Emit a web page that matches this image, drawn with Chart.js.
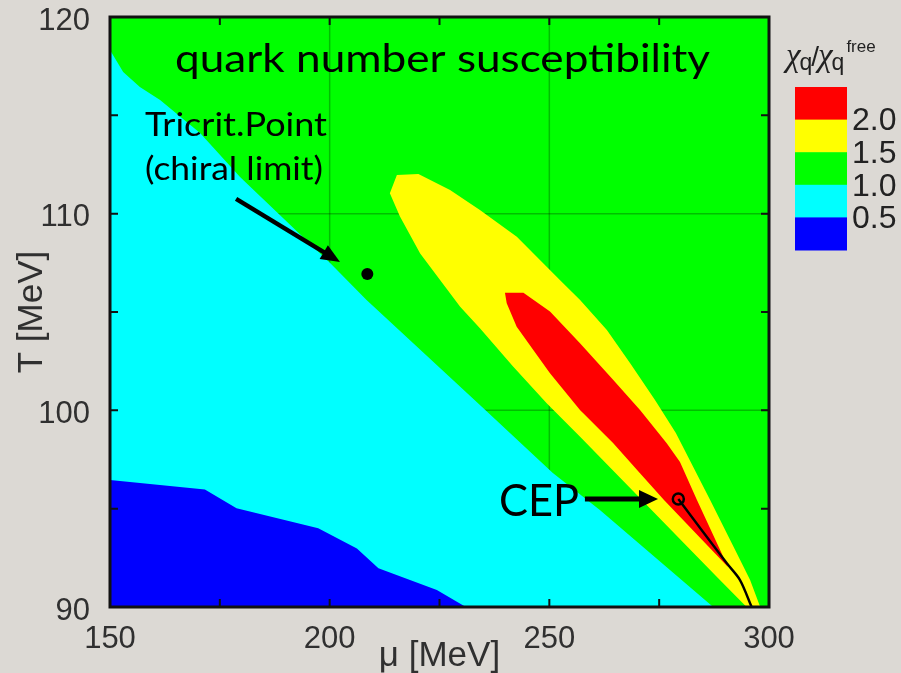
<!DOCTYPE html>
<html><head><meta charset="utf-8">
<script src="https://cdn.jsdelivr.net/npm/chart.js@4.4.1/dist/chart.umd.min.js"></script>
<style>html,body{margin:0;padding:0;background:#dcd9d4;overflow:hidden}canvas{display:block}</style>
</head><body>
<canvas id="c" width="901" height="673"></canvas>
<script>
// ---- axes ----
const muRange = [150, 300];
const tRange = [90, 120];
const muTickStep = 25;
const tTickStep = 5;
const muLabelTicks = [150, 200, 250, 300];
const tLabelTicks = [90, 100, 110, 120];
const muGrid = [200, 250];
const tGrid = [100, 110];

// ---- contour regions (chi_q / chi_q^free levels) ----
// region below the 0.5 contour (blue)
const blueMu = [150, 150, 171.6, 178.8, 197.4, 206.2, 211.1, 224.4, 231.0];
const blueT  = [90, 96.46, 95.98, 95.02, 94.0, 92.98, 91.97, 90.87, 90.0];
// region below the 1.0 contour (cyan)
const cyanMu = [150, 150, 153.0, 156.8, 161.4, 170.5, 179.6, 200.1, 208.4, 234.2, 250.8, 261.5, 287.3];
const cyanT  = [90, 118.32, 117.2, 116.44, 115.78, 114.1, 111.86, 107.49, 105.61, 100.27, 96.81, 94.93, 90.0];
// region above the 1.5 contour (yellow)
const yellowMu = [213.7, 215.3, 220.2, 227.4, 234.2, 242.6, 252.4, 257.0, 263.1, 268.4, 274.05, 278.8, 286.6, 292.3, 295.7, 298.0,
                  294.9, 288.1, 261.5, 257.0, 249.4, 241.8, 234.2, 229.7, 220.6, 216.0];
const yellowT  = [111.04, 111.97, 112.02, 111.2, 110.19, 108.83, 106.63, 105.61, 104.08, 102.39, 100.53, 98.85, 95.44, 92.9, 91.37, 90.0,
                  90.0, 91.54, 97.63, 98.66, 100.36, 102.22, 104.17, 105.27, 107.98, 109.85];
// region above the 2.0 contour (red)
const redMu = [239.9, 244.1, 250.15, 256.98, 264.56, 270.64, 276.72, 279.74, 283.6, 290.67,
               276.1, 270.64, 264.56, 256.98, 250.15, 246.35, 242.57, 240.3];
const redT  = [105.98, 105.98, 105.02, 103.41, 101.54, 100.02, 98.32, 97.37, 95.44, 92.03,
               95.44, 96.8, 98.32, 100.02, 101.88, 103.07, 104.25, 105.44];

// ---- special points and line ----
const cepMu = [279.36];
const cepT = [95.49];
const cepLineMu = [279.36, 290.4, 293.4, 296.05];
const cepLineT  = [95.49, 92.22, 91.37, 90.0];
const tricritMu = [208.57];
const tricritT = [106.93];

// ---- annotations (data coordinates) ----
const tricritArrow = [[178.7, 110.75], [202.35, 107.54]];
const cepArrow = [[258.1, 95.49], [274.73, 95.49]];
const titleText = 'quark number susceptibility';
const tricritText = ['Tricrit.Point', '(chiral limit)'];
const cepText = 'CEP';

// ---- colour scale legend ----
const levelColors = ['#ff0000', '#ffff00', '#00ff00', '#00ffff', '#0000ff'];
const levelLabels = ['2.0', '1.5', '1.0', '0.5'];

const pageBg = '#dcd9d4';
const tickColor = '#303030';

const pts = (mus, ts) => mus.map((m, i) => ({x: m, y: ts[i]}));
const region = (label, mus, ts, color) => ({
  label, data: pts(mus, ts), showLine: true, fill: 'shape',
  backgroundColor: color, borderColor: 'rgba(0,0,0,0)', borderWidth: 0,
  pointRadius: 0, pointHoverRadius: 0, tension: 0
});

const datasets = [
  {label: 'CEP point', data: pts(cepMu, cepT), showLine: false, pointStyle: 'circle', pointRadius: 5.5,
   pointBorderWidth: 2.5, pointBorderColor: '#000', pointBackgroundColor: 'rgba(0,0,0,0)'},
  {label: 'CEP line', data: pts(cepLineMu, cepLineT), showLine: true, fill: false, borderColor: '#000',
   borderWidth: 2.4, pointRadius: 0, tension: 0.3},
  {label: 'tricritical point', data: pts(tricritMu, tricritT), showLine: false, pointStyle: 'circle',
   pointRadius: 6, pointBorderWidth: 0, pointBackgroundColor: '#000'},
  region('> 2.0', redMu, redT, levelColors[0]),
  region('1.5 - 2.0', yellowMu, yellowT, levelColors[1]),
  region('< 0.5', blueMu, blueT, levelColors[4]),
  region('0.5 - 1.0', cyanMu, cyanT, levelColors[3])
];

function px(chart, p) {
  return [chart.scales.x.getPixelForValue(p[0]), chart.scales.y.getPixelForValue(p[1])];
}
function arrow(ctx, a, b, lw, hl, hw) {
  const ang = Math.atan2(b[1] - a[1], b[0] - a[0]);
  const bx = b[0] - hl * Math.cos(ang), by = b[1] - hl * Math.sin(ang);
  ctx.strokeStyle = '#000'; ctx.fillStyle = '#000'; ctx.lineWidth = lw; ctx.lineCap = 'butt';
  ctx.beginPath(); ctx.moveTo(a[0], a[1]); ctx.lineTo(bx + Math.cos(ang), by + Math.sin(ang)); ctx.stroke();
  ctx.beginPath(); ctx.moveTo(b[0], b[1]);
  ctx.lineTo(bx + hw * Math.sin(ang), by - hw * Math.cos(ang));
  ctx.lineTo(bx - hw * Math.sin(ang), by + hw * Math.cos(ang));
  ctx.closePath(); ctx.fill();
}
function fitText(ctx, text, x, y, size, targetW, align) {
  ctx.font = size + 'px Lato';
  const w = ctx.measureText(text).width;
  ctx.save();
  ctx.translate(x, y); ctx.scale(targetW / w, 1);
  ctx.textAlign = align; ctx.textBaseline = 'alphabetic'; ctx.fillStyle = '#000';
  ctx.fillText(text, 0, 0);
  ctx.restore();
}
function seq(ctx, parts, x) {
  ctx.textAlign = 'left'; ctx.textBaseline = 'alphabetic';
  parts.forEach(([s, font, y, dx]) => { ctx.font = font; x += (dx || 0); ctx.fillText(s, x, y); x += ctx.measureText(s).width; });
}

const bgPlugin = {
  id: 'bg',
  beforeDraw(chart) {
    const {ctx, chartArea: a} = chart;
    ctx.save();
    ctx.fillStyle = pageBg; ctx.fillRect(0, 0, chart.width, chart.height);
    ctx.fillStyle = levelColors[2];
    ctx.fillRect(a.left, a.top, a.right - a.left, a.bottom - a.top);
    ctx.restore();
  }
};

const framePlugin = {
  id: 'frame',
  beforeDatasetsDraw(chart) {
    const {ctx, chartArea: a, scales: {x, y}} = chart;
    ctx.save();
    ctx.strokeStyle = 'rgba(0,0,0,0.25)'; ctx.lineWidth = 1.5;
    muGrid.forEach(v => { const p = x.getPixelForValue(v); ctx.beginPath(); ctx.moveTo(p, a.top); ctx.lineTo(p, a.bottom); ctx.stroke(); });
    tGrid.forEach(v => { const p = y.getPixelForValue(v); ctx.beginPath(); ctx.moveTo(a.left, p); ctx.lineTo(a.right, p); ctx.stroke(); });
    ctx.restore();
  },
  afterDatasetsDraw(chart) {
    const {ctx, chartArea: a, scales: {x, y}} = chart;
    ctx.save();
    // tick marks (inward, all sides)
    ctx.strokeStyle = '#111'; ctx.lineWidth = 2;
    const tl = 8;
    x.ticks.forEach(t => { const p = x.getPixelForValue(t.value);
      ctx.beginPath(); ctx.moveTo(p, a.bottom); ctx.lineTo(p, a.bottom - tl); ctx.moveTo(p, a.top); ctx.lineTo(p, a.top + tl); ctx.stroke(); });
    y.ticks.forEach(t => { const p = y.getPixelForValue(t.value);
      ctx.beginPath(); ctx.moveTo(a.left, p); ctx.lineTo(a.left + tl, p); ctx.moveTo(a.right, p); ctx.lineTo(a.right - tl, p); ctx.stroke(); });
    // frame
    ctx.strokeStyle = '#111'; ctx.lineWidth = 3;
    ctx.strokeRect(a.left, a.top, a.right - a.left, a.bottom - a.top);

    // annotations
    arrow(ctx, px(chart, tricritArrow[0]), px(chart, tricritArrow[1]), 4.5, 19, 8);
    arrow(ctx, px(chart, cepArrow[0]), px(chart, cepArrow[1]), 5, 19, 9);
    const tp = px(chart, [225.7, 117.2]);
    fitText(ctx, titleText, tp[0], tp[1], 38, 535, 'center');
    const t1 = px(chart, [157.97, 113.95]);
    fitText(ctx, tricritText[0], t1[0], t1[1], 32, 182, 'left');
    const t2 = px(chart, [157.97, 111.72]);
    fitText(ctx, tricritText[1], t2[0], t2[1], 32, 178, 'left');
    const c1 = px(chart, [238.55, 94.63]);
    fitText(ctx, cepText, c1[0], c1[1], 45, 80, 'left');

    // colour legend
    const lx = 795, lw = 52, ly = 87, lh = 32.6;
    levelColors.forEach((c, i) => { ctx.fillStyle = c; ctx.fillRect(lx, ly + i * lh, lw, lh + 0.5); });
    ctx.fillStyle = '#222'; ctx.font = '32px "Liberation Sans"'; ctx.textAlign = 'left'; ctx.textBaseline = 'middle';
    levelLabels.forEach((s, i) => ctx.fillText(s, lx + 57, ly + (i + 1) * lh + 2));
    // legend title chi_q / chi_q^free
    seq(ctx, [
      ['χ', 'italic 33px "Liberation Serif"', 66, 0],
      ['q', '23px "Liberation Sans"', 70, -1],
      ['/', '28px "Liberation Sans"', 66, -1],
      ['χ', 'italic 33px "Liberation Serif"', 66, -1],
      ['q', '23px "Liberation Sans"', 70, -1],
      ['free', '17px "Liberation Sans"', 52, 2]
    ], 786);
    ctx.restore();
  }
};

new Chart(document.getElementById('c'), {
  type: 'scatter',
  data: {datasets},
  options: {
    responsive: false, animation: false, events: [],
    layout: {padding: {left: 0, right: 132, top: 17, bottom: 0}},
    plugins: {legend: {display: false}, tooltip: {enabled: false}},
    scales: {
      x: {
        type: 'linear', min: muRange[0], max: muRange[1],
        grid: {display: false, drawTicks: false}, border: {display: false},
        ticks: {stepSize: muTickStep, autoSkip: false, maxRotation: 0, padding: 17, color: tickColor,
          font: {family: 'Liberation Sans', size: 31, lineHeight: 1},
          callback: v => muLabelTicks.includes(v) ? String(v) : ''},
        title: {display: true, text: 'μ [MeV]', color: tickColor, padding: {top: 0, bottom: 0},
          font: {family: 'Liberation Sans', size: 35, lineHeight: 0.97}},
        afterFit: s => { s.height = 66; s.paddingLeft = 0; s.paddingRight = 0; }
      },
      y: {
        type: 'linear', min: tRange[0], max: tRange[1],
        grid: {display: false, drawTicks: false}, border: {display: false},
        ticks: {stepSize: tTickStep, autoSkip: false, padding: 20, labelOffset: 4, color: tickColor,
          font: {family: 'Liberation Sans', size: 31, lineHeight: 1},
          callback: v => tLabelTicks.includes(v) ? String(v) : ''},
        title: {display: true, text: 'T [MeV]', color: tickColor, padding: {top: 11, bottom: 0},
          font: {family: 'Liberation Sans', size: 35, lineHeight: 1.2}},
        afterFit: s => { s.width = 110; s.paddingTop = 0; s.paddingBottom = 0; }
      }
    }
  },
  plugins: [bgPlugin, framePlugin]
});
</script>
</body></html>
